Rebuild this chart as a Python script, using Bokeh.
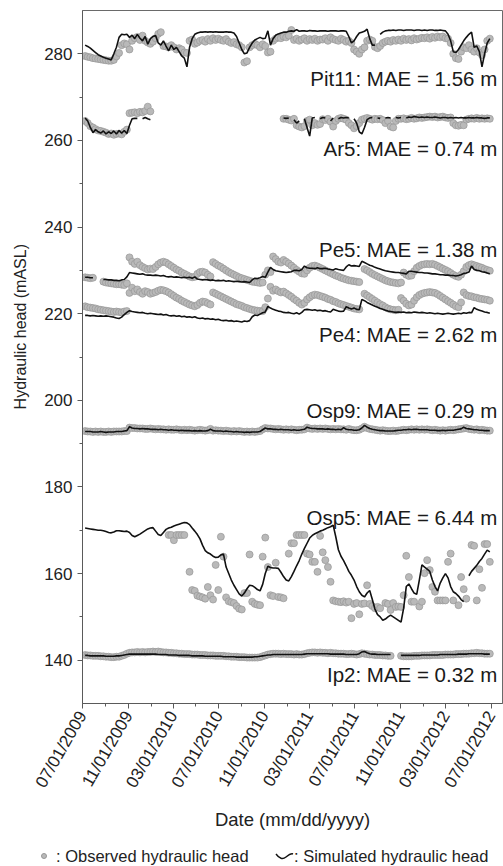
import numpy as np
import pandas as pd
from math import pi
from bokeh.plotting import figure
from bokeh.models import Range1d, FixedTicker, DatetimeTickFormatter, Label, Div
from bokeh.layouts import column, row
from bokeh.embed import file_html
from bokeh.resources import INLINE

N = None  # gap marker

# weekly observation / simulation dates
week_dates = pd.date_range("2009-07-08", periods=156, freq="7D")

wells = ["Pit11", "Ar5", "Pe5", "Pe4", "Osp9", "Osp5", "Ip2"]
mae_m = [1.56, 0.74, 1.38, 2.62, 0.29, 6.44, 0.32]

x_tick_dates = ["2009-07-01", "2009-11-01", "2010-03-01", "2010-07-01", "2010-11-01",
                "2011-03-01", "2011-07-01", "2011-11-01", "2012-03-01", "2012-07-01"]
x_minor_dates = ["2009-09-01", "2010-01-01", "2010-05-01", "2010-09-01", "2011-01-01",
                 "2011-05-01", "2011-09-01", "2012-01-01", "2012-05-01"]
y_ticks = [140, 160, 180, 200, 220, 240, 260, 280]
y_minor = [150, 170, 190, 210, 230, 250, 270]

pit11_obs = [
    279.5, 279.3, 279.2, 279.0, 278.9, 278.8, 278.7, 278.6, 278.5, 278.4, 278.4, 278.6, 279.4,
    280.2, 282.0, 282.4, 282.2, 281.0, 283.0, 283.6, 283.9, 283.2, 284.2, 283.0, 282.6, 282.3,
    282.8, 283.6, 284.6, 285.0, 281.8, 281.7, 281.5, 282.0, 281.5, 281.0, 281.3, 281.0, 280.3,
    280.2, 283.0, 283.3, 282.3, 282.6, 283.0, 283.2, 282.8, 283.4, 283.0, 283.6, 283.2, 283.5,
    283.2, 283.0, 283.4, 282.8, 282.5, 282.7, 282.2, 282.0, 281.5, 278.0, 278.3, 281.5, 282.0,
    282.3, 282.0, 281.5, 282.2, 281.8, 280.3, 280.5, 283.0, 283.5, 283.8, 283.6, 284.0, 283.8,
    284.2, 285.5, 283.2, 283.5, 283.0, 283.3, 283.6, 283.0, 283.4, 283.2, 283.5, 283.0, 283.3,
    283.3, 283.6, 283.0, 283.8, 283.4, 283.2, 283.0, 283.5, 283.2, 282.8, 283.0, 282.5, 281.0,
    280.5, 280.0, 281.0, 281.5, 283.0, 283.3, 283.0, 281.6, 281.3, 281.8, 282.5, 282.8, 283.0,
    282.8, 283.2, 283.0, 283.3, 283.0, 283.5, 283.2, 283.4, 283.1, 283.6, 283.3, 283.5, 283.7,
    283.6, 283.8, 283.5, 283.9, 283.7, 284.0, 283.8, 284.0, 283.6, 283.5, 282.5, 280.0, 279.0,
    278.8, 280.5, 281.5, 281.3, 282.0, 281.0, 280.5, 281.3, 280.3, 279.7, 281.0, 283.0, 283.5,
]
pit11_sim = [
    282.0, 281.7, 281.3, 280.8, 280.3, 279.8, 279.5, 279.2, 279.0, 278.8, 278.6, 280.0, 281.5,
    283.8, 284.5, 284.4, 284.5, 283.8, 284.3, 283.5, 284.5, 283.6, 283.0, 284.0, 282.2, 283.5,
    284.0, 284.2, 282.5, 282.0, 283.0, 281.8, 280.7, 282.0, 281.0, 281.5, 280.5, 279.5, 279.0,
    277.0, 281.5, 283.5, 284.5, 284.8, 285.0, 285.0, 285.1, 285.0, 285.1, 285.0, 285.1, 285.0,
    285.0, 285.0, 285.1, 285.0, 285.0, 284.8, 284.0, 282.5, 281.0, 280.0, 280.2, 281.5, 282.5,
    283.2, 283.5, 283.8, 283.5, 283.6, 285.3, 282.0, 283.5, 284.3, 284.6, 284.8, 285.0, 285.0,
    285.2, 285.3, 285.2, 285.6, 285.2, 285.3, 285.3, 285.2, 285.4, 285.3, 285.3, 285.2, 285.3,
    285.3, 285.3, 285.2, 285.3, 285.3, 285.3, 285.2, 285.3, 285.3, 285.2, 284.0, 282.5, 283.0,
    284.0, 284.8, 285.0, 285.2, 285.7, 283.5, 282.0, 282.0, N, 284.5, 285.0, 285.3, 285.4,
    285.4, 285.5, 285.4, 285.5, 285.5, 285.4, 285.5, 285.5, 285.5, 285.4, 285.5, 285.5, 285.4,
    285.5, 285.4, 285.5, 285.5, 285.4, 285.4, 285.5, 285.4, 285.3, 284.5, 283.0, 280.5, 280.3,
    281.0, 282.0, 283.0, 283.8, 284.5, 285.0, 281.5, 281.8, 280.5, 277.0, 280.0, 282.5, 283.5,
]
ar5_obs = [
    264.5, 264.0, 263.3, 263.0, 262.6, 262.3, 262.2, 262.0, 261.8, 261.5, 261.6, 261.3, 261.5,
    261.6, 261.4, 262.0, 262.5, 266.3, 266.4, 266.5, 266.3, 266.6, 266.5, 266.8, 267.8, 266.7,
    N, N, N, N, N, N, N, N, N, N, N, N, N,
    N, N, N, N, N, N, N, N, N, N, N, N, N,
    N, N, N, N, N, N, N, N, N, N, N, N, N,
    N, N, N, N, N, N, N, N, N, N, N, 265.0, 265.0,
    264.8, 264.6, 265.0, 263.5, 263.2, 263.0, 263.3, 264.5, 264.8, 263.5, 264.0, 263.6, 263.8,
    264.9, 264.7, 265.0, 264.3, 263.2, 264.5, 265.0, 265.2, 265.0, 264.8, 264.0, 263.5, 262.8,
    263.3, 264.0, 264.8, 265.0, 265.2, 265.0, 264.8, 265.0, 264.9, 265.0, 264.7, 264.0, 264.5,
    263.2, 263.0, 264.5, 265.0, 265.0, 265.1, 264.9, 265.0, 265.2, 265.0, 265.1, 265.3, 265.2,
    265.3, 265.4, 265.5, 265.4, 265.5, 265.3, 265.4, 265.5, 265.3, 265.2, 265.3, 264.0, 263.5,
    263.4, 263.6, 263.5, 264.8, 265.0, 265.1, 265.0, 265.2, 265.0, 265.1, 265.0, 265.1, 265.0,
]
ar5_sim = [
    265.2, 264.5, 263.0, 261.8, 262.5, 262.0, 261.7, 262.2, 261.5, 262.0, 261.6, 262.2, 261.5,
    262.3, 261.7, 262.3, 261.6, 263.5, 265.0, 265.1, 265.1, N, 265.0, 265.3, 265.0, 264.8,
    N, N, N, N, N, N, N, N, N, N, N, N, N,
    N, N, N, N, N, N, N, N, N, N, N, N, N,
    N, N, N, N, N, N, N, N, N, N, N, N, N,
    N, N, N, N, N, N, N, N, N, N, N, 265.2, 265.1,
    265.2, N, 264.8, 264.0, 264.5, N, 265.0, 263.0, 261.0, 265.2, 265.3, N, 265.0,
    265.3, 265.2, N, 264.5, 265.2, N, 265.0, 265.3, 265.2, 265.3, 265.2, N, 265.0,
    264.0, 262.0, 261.5, 263.0, 264.8, 265.2, 265.3, N, 265.2, 265.1, N, 265.2, 265.3,
    265.2, N, 265.3, 265.2, 265.3, N, 265.2, 265.4, 265.3, 265.5, 265.4, 265.3, 265.4,
    265.3, 265.4, 265.3, 265.3, 265.4, 265.3, 265.2, 265.3, 265.3, 265.2, 265.3, 265.2, 265.3,
    265.2, 265.3, 265.2, 265.2, 265.3, 265.2, 265.2, 265.3, 265.2, 265.2, 265.1, 265.2, 265.2,
]
pe5_obs = [
    228.4, 228.3, 228.2, 228.3, N, N, N, 227.4, 227.2, 227.1, 227.0, 226.9, 226.8,
    226.8, 226.7, 226.6, 227.0, 233.0, 232.0, 231.5, 232.0, 231.2, 230.8, 230.5, 230.2, 230.4,
    230.3, 230.8, 231.4, 231.8, 232.0, 231.8, 231.4, 231.0, 230.6, 230.2, 229.9, 229.5, 229.2,
    228.9, 228.6, 228.4, 228.5, 229.2, 229.6, 229.7, 229.5, 229.0, 228.6, 231.9, 231.5, 231.1,
    230.8, 230.4, 230.0, 229.6, 229.3, 229.0, 228.7, 228.4, 228.2, 228.0, 227.8, 227.6, 227.4,
    227.3, 227.2, 227.1, 227.2, 229.0, 230.0, 229.6, 233.2, 232.6, 232.0, 231.8, 232.4, 232.0,
    231.6, 231.1, 230.6, 230.1, 229.7, 229.3, 229.2, 230.0, 230.6, 231.0, 231.1, 230.9, 230.6,
    230.3, 230.0, 229.7, 229.4, 229.1, 228.8, 228.6, 228.3, 228.1, 227.9, 227.7, 227.6, 227.5,
    227.4, 227.3, N, 230.3, 230.0, 229.6, 229.2, 228.9, 228.6, 228.3, 228.0, 227.7, 227.5,
    227.3, 227.2, 227.1, 227.0, 227.2, 229.5, 229.0, 228.7, 228.8, 229.8, 230.6, 231.0, 231.3,
    231.4, 231.5, 231.4, 231.5, 231.3, 231.0, 230.7, 230.4, 230.1, 229.8, 229.4, 229.0, 228.7,
    228.5, 229.0, 229.8, 230.8, 231.2, 231.4, 231.2, 231.0, 230.8, 230.6, 230.3, 230.1, 229.9,
]
pe5_sim = [
    228.4, 228.4, 228.3, 228.3, N, N, N, 227.9, 227.9, 227.8, 227.8, 227.7, 227.7,
    227.6, 227.8, 227.9, 228.5, 229.5, 229.4, 229.3, 229.2, 229.1, 229.2, 229.0, 228.9, 228.9,
    228.8, 228.9, 228.8, 228.7, 228.8, 228.6, 228.5, 228.6, 228.4, 228.5, 228.4, 228.3, 228.4,
    228.3, 228.4, 228.2, 228.5, 228.0, 227.9, 227.8, 227.9, 227.8, 227.7, 227.8, 227.6, 227.7,
    227.6, 227.7, 227.5, 227.6, 227.5, 227.4, 227.5, 227.4, 227.3, 227.4, 227.3, 227.2, 227.8,
    228.2, 228.1, 228.3, 228.6, 228.4, 229.6, 230.7, 230.2, 229.9, 229.8, 229.7, 229.6, 229.5,
    229.6, 229.7, 230.0, 230.0, 229.9, 230.2, 231.0, 230.6, 230.5, 230.5, 230.4, 230.6, 230.4,
    230.4, 230.5, 230.3, 230.2, 230.1, 230.4, 230.2, 230.1, 230.0, 230.8, 231.3, 231.0, 231.1,
    231.0, 230.9, 232.1, 231.8, 231.5, 231.2, 231.0, 230.7, 230.5, 230.3, 230.1, 229.9, 229.8,
    229.7, 229.6, 229.5, 229.5, 229.4, 229.3, 229.2, 229.8, 229.8, 229.7, 229.6, 229.5, 229.5,
    229.4, 229.4, 229.3, 229.2, 229.2, 229.1, 229.0, 229.0, 228.9, 228.9, 228.8, 228.8, 228.7,
    228.8, 229.0, 229.3, 229.4, 229.6, 231.0, 230.2, 230.0, 229.9, 229.7, 229.6, 229.4, 229.2,
]
pe4_obs = [
    221.7, 221.5, 221.4, 221.3, 221.2, 221.0, 220.9, 220.8, 220.7, 220.6, 220.5, 220.4, 220.5,
    220.4, 220.3, 220.5, 220.6, 224.8, 226.0, 225.2, 225.6, 225.0, 224.6, 225.2, 225.0, 224.6,
    224.8, 225.0, 225.3, 225.5, 225.4, 225.2, 224.9, 224.5, 224.1, 223.7, 223.4, 223.0, 222.7,
    222.4, 222.1, 221.9, 221.7, 222.0, 222.5, 222.8, 222.7, 222.4, 222.1, 224.9, 224.6, 224.3,
    224.0, 223.7, 223.4, 223.1, 222.8, 222.5, 222.2, 222.0, 221.8, 221.5, 221.3, 221.1, 220.9,
    220.8, 220.7, 220.6, 220.6, 221.5, 223.5, 226.2, 225.3, 225.6, 225.2, 224.9, 225.1, 224.7,
    224.3, 223.9, 223.4, 223.0, 222.5, 222.1, 222.5, 223.3, 223.8, 224.2, 224.4, 224.3, 224.1,
    223.9, 223.7, 223.4, 223.2, 222.9, 222.7, 222.4, 222.2, 222.0, 221.8, 221.6, 221.4, 221.2,
    221.1, 221.0, N, 224.6, 224.2, 223.8, 223.4, 223.0, 222.6, 222.2, 221.9, 221.5, 221.2,
    221.0, 220.9, 220.8, 220.9, 223.6, 223.0, 222.3, 221.9, 222.1, 223.0, 223.8, 224.3, 224.6,
    224.8, 224.9, 225.0, 224.9, 224.8, 224.5, 224.1, 223.7, 223.3, 222.9, 222.5, 222.1, 221.7,
    221.5, 222.6, 224.9, 224.3, 224.1, 224.0, 223.8, 223.7, 223.5, 223.4, 223.3, 223.2, 223.0,
]
pe4_sim = [
    219.6, 219.6, 219.5, 219.6, 219.5, 219.4, 219.5, 219.4, 219.5, 219.4, 219.3, 219.2, 219.0,
    218.9, 219.2, 219.8, 220.3, 220.7, 220.5, 220.4, 220.3, 220.2, 220.3, 220.1, 220.0, 220.1,
    220.0, 219.9, 219.8, 219.9, 219.7, 219.8, 219.6, 219.5, 219.6, 219.4, 219.5, 219.3, 219.4,
    219.2, 219.3, 219.1, 219.3, 219.0, 218.9, 219.0, 218.8, 218.9, 218.7, 218.8, 218.6, 218.7,
    218.5, 218.4, 218.5, 218.3, 218.4, 218.2, 218.3, 218.2, 218.1, 218.3, 218.2, 218.4, 219.3,
    219.7, 219.6, 219.9, 220.2, 220.4, 221.7, 221.3, 221.0, 220.8, 220.6, 220.5, 220.3, 220.2,
    220.3, 220.1, 220.0, 220.2, 219.9, 220.3, 220.9, 221.0, 220.9, 220.8, 220.9, 220.7, 220.8,
    220.6, 220.7, 220.5, 220.4, 221.0, 220.8, 220.6, 220.5, 220.6, 221.6, 221.3, 221.1, 221.3,
    221.0, 220.9, 223.3, 223.0, 222.6, 222.3, 222.0, 221.7, 221.5, 221.2, 221.0, 220.8, 220.6,
    220.5, 220.4, 220.3, 220.4, 220.3, 220.4, 220.2, 220.3, 220.2, 220.4, 220.3, 220.2, 220.3,
    220.2, 220.1, 220.2, 220.1, 220.0, 220.1, 220.0, 219.9, 220.0, 220.1, 220.0, 219.9, 220.0,
    220.1, 220.0, 220.2, 220.1, 220.3, 220.2, 221.4, 221.0, 220.8, 220.6, 220.4, 220.3, 220.1,
]
osp9_obs = [
    192.9, 192.8, 192.8, 192.7, 192.8, 192.7, 192.8, 192.7, 192.7, 192.8, 192.7, 192.8, 192.8,
    192.8, 192.8, 192.9, 192.9, 193.7, 193.6, 193.6, 193.5, 193.5, 193.5, 193.4, 193.4, 193.5,
    193.4, 193.3, 193.4, 193.3, 193.3, 193.2, 193.3, 193.2, 193.2, 193.3, 193.2, 193.1, 193.2,
    193.1, 193.2, 193.1, 193.0, 193.1, 193.2, 193.1, 193.0, 193.1, 193.4, 193.0, 193.1, 193.0,
    193.0, 192.9, 193.0, 192.9, 192.8, 192.9, 192.8, 192.9, 192.8, 192.7, 192.8, 192.7, 192.8,
    192.7, 192.8, 192.9, 193.3, 193.6, 193.5, 193.5, 193.4, 193.3, 193.4, 193.3, 193.2, 193.3,
    193.2, 193.3, 193.2, 193.1, 193.2, 193.2, 193.3, 193.7, 193.5, 193.4, 193.5, 193.4, 193.5,
    193.4, 193.5, 193.4, 193.3, 193.4, 193.3, 193.4, 193.3, 193.3, 193.2, 193.4, 193.2, 193.1,
    193.1, 193.2, 193.5, 193.9, 193.6, 193.4, 193.3, 193.2, 193.1, 193.0, 193.1, 193.0, 192.9,
    192.9, 193.0, 192.9, 193.0, 193.1, 193.2, 193.1, 193.2, 193.3, 193.2, 193.3, 193.2, 193.3,
    193.2, 193.3, 193.2, 193.1, 193.2, 193.1, 193.0, 193.1, 193.0, 193.1, 193.2, 193.1, 193.2,
    193.3, 193.4, 193.5, 193.6, 193.4, 193.3, 193.2, 193.3, 193.1, 193.2, 193.1, 193.0, 193.0,
]
osp9_sim = [
    192.8, 192.8, 192.8, 192.7, 192.7, 192.7, 192.8, 192.7, 192.6, 192.7, 192.7, 192.7, 192.8,
    192.8, 192.8, 192.9, 193.0, 193.9, 193.6, 193.5, 193.5, 193.4, 193.5, 193.4, 193.4, 193.3,
    193.3, 193.3, 193.2, 193.3, 193.2, 193.2, 193.1, 193.2, 193.1, 193.1, 193.0, 193.1, 193.0,
    193.0, 193.0, 192.9, 193.0, 192.9, 193.0, 192.9, 192.9, 193.0, 193.3, 193.0, 192.9, 192.9,
    192.9, 192.8, 192.9, 192.8, 192.8, 192.7, 192.8, 192.7, 192.7, 192.6, 192.7, 192.6, 192.7,
    192.7, 192.7, 192.8, 193.2, 193.6, 193.4, 193.4, 193.3, 193.3, 193.2, 193.3, 193.2, 193.2,
    193.2, 193.1, 193.2, 193.1, 193.1, 193.2, 193.3, 193.8, 193.6, 193.5, 193.5, 193.4, 193.4,
    193.4, 193.3, 193.4, 193.3, 193.3, 193.2, 193.3, 193.2, 193.7, 193.3, 193.2, 193.2, 193.1,
    193.1, 193.2, 193.6, 194.2, 193.8, 193.5, 193.3, 193.2, 193.1, 193.0, 193.0, 192.9, 192.9,
    192.9, 192.9, 193.0, 193.1, 193.1, 193.2, 193.2, 193.3, 193.2, 193.3, 193.3, 193.2, 193.2,
    193.2, 193.2, 193.1, 193.1, 193.1, 193.0, 193.0, 193.1, 193.0, 193.1, 193.1, 193.1, 193.2,
    193.3, 193.4, 193.8, 193.5, 193.4, 193.3, 193.2, 193.2, 193.1, 193.1, 193.0, 193.0, 193.0,
]
osp5_obs = [
    N, N, N, N, N, N, N, N, N, N, N, N, N,
    N, N, N, N, N, N, N, N, N, N, N, N, N,
    N, N, N, N, N, N, 168.9, 168.9, 167.7, 168.9, 168.9, 168.9, 168.9,
    N, 160.4, 156.2, 156.0, 154.9, 154.7, 154.5, 154.2, 156.9, 155.0, 154.0, 162.0, 156.2,
    168.5, 163.9, 154.5, 153.6, 153.4, 153.2, 152.5, 151.9, 151.7, 155.5, 155.5, 164.4, 153.5,
    153.0, 152.8, 152.7, 163.9, 168.3, 161.5, 155.0, 154.8, 162.5, 154.6, 154.5, 154.3, N,
    164.6, 167.0, 167.0, 168.9, 168.9, 168.9, 168.9, 164.6, 164.4, 162.7, 162.7, 160.4, 168.7,
    164.9, 163.1, 161.5, 158.1, 153.8, 153.6, 153.5, 153.4, 153.6, 153.3, 153.5, 149.7, 153.0,
    153.2, 150.6, 153.0, 153.1, 157.3, 153.0, 152.5, 152.0, 152.3, 152.0, N, 153.2, 153.0,
    151.6, 153.2, 152.3, 152.4, 152.3, 155.0, 164.1, 159.2, 153.5, 153.5, N, 152.4, 153.5,
    160.1, 163.1, 160.8, 156.9, 155.8, 153.8, 153.8, 153.8, 153.8, 162.7, 164.6, 153.8, N,
    152.7, 159.2, 156.4, 154.2, N, 166.6, 166.4, 153.8, 161.0, 156.7, 166.8, 166.8, 162.7,
]
osp5_sim = [
    170.5, 170.4, 170.3, 170.2, 170.1, 170.0, 170.0, 169.9, 169.7, 169.5, 169.4, 169.6, 169.9,
    169.9, 169.8, 169.7, 169.8, 169.5, 168.8, 168.5, 168.8, 169.1, 169.5, 169.9, 170.3, 170.5,
    170.6, 169.8, 169.0, 168.8, 169.5, 170.2, 170.5, 170.7, 171.0, 171.2, 171.4, 171.6, 171.8,
    171.7, 171.3, 170.5, 169.8, 169.0, 168.0, 166.5, 165.3, 164.8, 164.5, 164.0, 163.7, 163.8,
    164.3, 164.5, 161.5, 160.0, 158.5, 157.3, 156.3, 155.3, 154.8, 155.5, 156.5, 157.3, 157.2,
    156.8, 156.3, 156.0, 157.5, 160.0, 161.7, 161.4, 161.3, 161.3, 161.2, 160.3, 159.3, 158.5,
    158.3, 159.3, 160.5, 161.8, 163.0, 164.5, 165.8, 167.0, 168.2, 168.8, 169.2, 169.5, 169.8,
    170.0, 170.3, 170.6, 170.8, 171.2, 168.5, 165.5, 164.0, 163.0, 161.8, 160.5, 159.6, 158.5,
    157.0, 155.8, 155.0, 154.6, 155.5, 156.1, 154.0, 151.8, 150.5, 150.0, 149.2, 149.5, 150.0,
    150.4, 150.0, 149.6, 149.2, 148.8, 152.0, 157.0, 157.6, 156.5, 155.5, 155.2, 158.5, 162.0,
    161.5, 161.0, 160.5, 158.5, 157.0, 156.0, 157.8, 159.0, 160.0, 159.0, 157.0, 155.8, 155.4,
    154.8, 154.0, 153.5, N, 159.5, 160.5, 161.2, 161.9, 162.8, 163.5, 164.5, 165.4, 165.0,
]
ip2_obs = [
    141.2, 141.1, 141.1, 141.0, 141.0, 141.0, 140.9, 140.9, 140.8, 140.8, 140.7, 140.7, 140.8,
    140.8, 141.0, 141.2, 141.5, 141.7, 141.8, 141.8, 141.9, 141.8, 141.9, 141.8, 141.9, 141.9,
    142.0, 141.9, 142.0, 141.9, 141.8, 141.8, 141.7, 141.7, 141.6, 141.6, 141.5, 141.5, 141.4,
    141.4, 141.4, 141.3, 141.3, 141.3, 141.2, 141.2, 141.2, 141.1, 141.1, 141.1, 141.0, 141.0,
    141.0, 141.0, 140.9, 140.9, 140.8, 140.8, 140.8, 140.7, 140.7, 140.7, 140.6, 140.6, 140.6,
    140.6, 140.6, 140.7, 140.9, 141.1, 141.3, 141.4, 141.5, 141.5, 141.5, 141.4, 141.5, 141.4,
    141.4, 141.4, 141.3, 141.4, 141.3, 141.3, 141.4, 141.6, 141.7, 141.8, 141.8, 141.7, 141.8,
    141.7, 141.7, 141.6, 141.7, 141.6, 141.6, 141.5, 141.5, 141.5, 141.4, 141.4, 141.5, 141.4,
    141.3, 141.4, 141.6, 141.5, 141.4, 141.3, 141.3, 141.2, 141.2, 141.2, 141.1, 141.1, 141.0,
    141.0, N, N, N, 141.0, 140.9, 140.9, 140.9, 140.9, 141.0, 141.0, 141.0, 141.1,
    141.1, 141.1, 141.1, 141.2, 141.2, 141.2, 141.2, 141.2, 141.3, 141.3, 141.3, 141.3, 141.4,
    141.4, 141.4, 141.5, 141.5, 141.5, 141.6, 141.6, 141.7, 141.6, 141.6, 141.5, 141.5, 141.5,
]
ip2_sim = [
    141.1, 141.1, 141.0, 141.0, 141.0, 141.0, 141.0, 141.0, 140.9, 140.9, 140.9, 140.9, 141.0,
    141.0, 141.1, 141.2, 141.3, 141.4, 141.4, 141.4, 141.4, 141.4, 141.4, 141.4, 141.4, 141.4,
    141.4, 141.4, 141.3, 141.3, 141.3, 141.3, 141.2, 141.2, 141.2, 141.2, 141.1, 141.1, 141.1,
    141.1, 141.1, 141.0, 141.0, 141.0, 141.0, 141.0, 140.9, 140.9, 140.9, 140.9, 140.9, 140.9,
    140.9, 140.8, 140.8, 140.8, 140.8, 140.8, 140.7, 140.7, 140.7, 140.7, 140.7, 140.7, 140.7,
    140.8, 140.8, 140.9, 141.0, 141.1, 141.2, 141.2, 141.3, 141.3, 141.3, 141.3, 141.3, 141.3,
    141.3, 141.3, 141.3, 141.3, 141.3, 141.3, 141.4, 141.5, 141.5, 141.5, 141.5, 141.5, 141.5,
    141.5, 141.5, 141.5, 141.4, 141.4, 141.4, 141.4, 141.4, 141.4, 141.3, 141.3, 141.3, 141.3,
    141.3, 141.5, 141.9, 142.0, 141.7, 141.5, 141.4, 141.4, 141.3, 141.3, 141.3, 141.3, 141.3,
    141.3, N, N, N, 141.1, 141.1, 141.1, 141.1, 141.1, 141.1, 141.1, 141.1, 141.2,
    141.2, 141.2, 141.2, 141.2, 141.2, 141.2, 141.3, 141.3, 141.3, 141.3, 141.3, 141.3, 141.3,
    141.4, 141.4, 141.4, 141.4, 141.5, 141.5, 141.5, 141.5, 141.5, 141.5, 141.4, 141.4, 141.4,
]

observed = [pit11_obs, ar5_obs, pe5_obs, pe4_obs, osp9_obs, osp5_obs, ip2_obs]
simulated = [pit11_sim, ar5_sim, pe5_sim, pe4_sim, osp9_sim, osp5_sim, ip2_sim]

y_title = "Hydraulic head (mASL)"
x_title = "Date (mm/dd/yyyy)"
legend_labels = [": Observed hydraulic head", ": Simulated hydraulic head"]

# ---------------------------------------------------------------- layout / style
FONT = "Liberation Sans"
OBS_FILL = "#b9b9b9"
OBS_LINE = "#979797"
SIM_COLOR = "#111111"
AXIS_COLOR = "#5a5a5a"
TEXT_COLOR = "#222222"

label_y = {"Pit11": 274.2, "Ar5": 258.1, "Pe5": 234.9, "Pe4": 215.3,
           "Osp9": 197.7, "Osp5": 172.9, "Ip2": 136.8}


def ms(d):
    return pd.Timestamp(d).value // 10**6


def arr(v):
    a = np.array(v, dtype=float)
    n = len(week_dates)
    if len(a) < n:
        a = np.concatenate([a, np.full(n - len(a), np.nan)])
    return a[:n]


x_start = pd.Timestamp("2009-07-01")
x_end = pd.Timestamp("2012-07-31")
y_range = Range1d(130, 290)

p = figure(width=473, height=836, x_axis_type="datetime",
           x_range=Range1d(x_start, x_end), y_range=y_range,
           output_backend="svg", toolbar_location=None,
           min_border_left=52, min_border_right=1, min_border_top=10,
           min_border_bottom=133)

for vals in observed:
    p.scatter(week_dates, arr(vals), size=7, marker="circle",
              fill_color=OBS_FILL, line_color=OBS_LINE, line_width=0.7)
for vals in simulated:
    p.line(week_dates, arr(vals), line_color=SIM_COLOR, line_width=1.6)

label_x = ms(x_end - pd.Timedelta(days=14))
for name, m in zip(wells, mae_m):
    p.add_layout(Label(x=label_x, y=label_y[name], text=f"{name}: MAE = {m:.2f} m",
                       text_align="right", text_baseline="middle",
                       text_font=FONT, text_font_size="20.5px",
                       text_color="#1a1a1a"))

p.xaxis.ticker = FixedTicker(ticks=[ms(d) for d in x_tick_dates],
                             minor_ticks=[ms(d) for d in x_minor_dates])
fmt = "%m/%d/%Y"
p.xaxis.formatter = DatetimeTickFormatter(days=fmt, months=fmt, years=fmt,
                                          hours=fmt, minutes=fmt, hourmin=fmt)
p.xaxis.major_label_orientation = pi / 3
p.yaxis.ticker = FixedTicker(ticks=y_ticks, minor_ticks=y_minor)

p.grid.visible = False
p.outline_line_color = "#6a6a6a"
p.outline_line_width = 1

for ax in (p.xaxis[0], p.yaxis[0]):
    ax.axis_line_color = AXIS_COLOR
    ax.major_tick_line_color = AXIS_COLOR
    ax.minor_tick_line_color = AXIS_COLOR
    ax.major_tick_in = 0
    ax.major_tick_out = 5
    ax.minor_tick_in = 0
    ax.minor_tick_out = 3
    ax.major_label_text_font = FONT
    ax.major_label_text_font_size = "17px"
    ax.major_label_text_color = TEXT_COLOR
    ax.axis_label_text_font = FONT
    ax.axis_label_text_font_style = "normal"
    ax.axis_label_text_color = TEXT_COLOR

p.xaxis.axis_label = x_title
p.xaxis.axis_label_text_font_size = "18.5px"
p.xaxis.major_label_standoff = 4
p.xaxis.axis_label_standoff = 10
p.yaxis.major_label_standoff = 5

# narrow strip at the left that carries the y-axis title (placed above centre as in the reference)
yt = figure(width=30, height=836, x_range=Range1d(0, 1), y_range=y_range,
            output_backend="svg", toolbar_location=None,
            x_axis_location=None, y_axis_location=None, min_border=0)
yt.grid.visible = False
yt.outline_line_color = None
yt.add_layout(Label(x=0.67, y=217.0, text=y_title, angle=pi / 2,
                    text_align="center", text_baseline="middle",
                    text_font=FONT, text_font_size="16px", text_color=TEXT_COLOR))

# legend strip under the chart
legend_html = (
    '<div style="position:relative;width:503px;height:30px;'
    "font-family:'Liberation Sans',Arial,sans-serif;font-size:16.5px;"
    'color:#222222;white-space:nowrap;">'
    '<span style="position:absolute;left:41px;top:17px;width:6px;height:6px;'
    'border-radius:50%;background:#b9b9b9;border:0.7px solid #979797;"></span>'
    '<span style="position:absolute;left:56px;top:11px;line-height:19px;">'
    + legend_labels[0] + '</span>'
    '<svg style="position:absolute;left:275px;top:16px;" width="19" height="9">'
    '<path d="M1,2 Q6,9 11,5 T18,2" stroke="#111111" stroke-width="1.4" fill="none"/></svg>'
    '<span style="position:absolute;left:294px;top:11px;line-height:19px;">'
    + legend_labels[1] + '</span>'
    '</div>'
)
legend_div = Div(text=legend_html, width=503, height=30, margin=0)

layout = column(row(yt, p), legend_div)
open("out.html", "w").write(file_html(layout, INLINE))
